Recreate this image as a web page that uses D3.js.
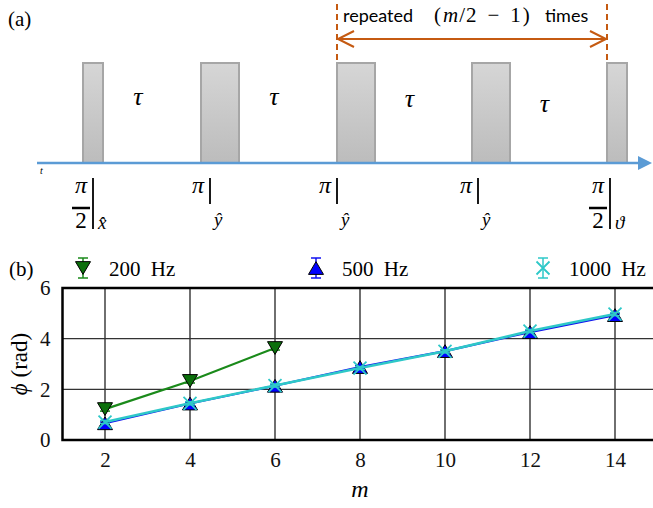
<!doctype html>
<html>
<head>
<meta charset="utf-8">
<title>Pulse sequence and accumulated phase</title>
<script src="https://cdnjs.cloudflare.com/ajax/libs/d3/7.8.5/d3.min.js"></script>
<style>
  body { margin: 0; background: #fff; }
  svg { display: block; }
</style>
</head>
<body>
<div id="chart"></div>
<script>
// ---- panel (a) : pulse sequence (time in arbitrary units along the axis) ----
const pulseStart = [46, 164, 300, 435, 570];
const pulseWidth = [20, 38, 38, 38, 20];
const pulseLabelAt = [56, 173, 300, 441, 573];
const pulseNum = ["π", "π", "π", "π", "π"];
const pulseDen = ["2", "", "", "", "2"];
const pulseSub = ["x̂", "ŷ", "ŷ", "ŷ", "ϑ"];

// ---- panel (b) : phase vs number of pulses ----
const mValues = [2, 4, 6, 8, 10, 12, 14];
const phi200 = [1.22, 2.33, 3.63];
const phi500 = [0.66, 1.44, 2.14, 2.88, 3.51, 4.26, 4.93];
const phi1000 = [0.71, 1.45, 2.15, 2.84, 3.50, 4.30, 4.97];
const err200 = [0.08, 0.08, 0.08];
const err500 = [0.05, 0.05, 0.05, 0.05, 0.05, 0.05, 0.05];
const err1000 = [0.06, 0.06, 0.06, 0.06, 0.06, 0.06, 0.06];
const xTicks = [2, 4, 6, 8, 10, 12, 14];
const yTicks = [0, 2, 4, 6];
const seriesNames = ["200 Hz", "500 Hz", "1000 Hz"];

const W = 653, H = 508;
const svg = d3.select("#chart").append("svg")
  .attr("width", W).attr("height", H);

const serif = "'Liberation Serif'";
const sans = "'Lato'";

// ================= panel (a) =================
const gA = svg.append("g");
const t = d3.scaleLinear().domain([0, 600]).range([37, 637]);
const axisY = 163, pulseTop = 63;

gA.append("text").attr("x", 8).attr("y", 26)
  .style("font-family", serif).style("font-size", "21px").text("(a)");

const grad = svg.append("defs").append("linearGradient")
  .attr("id", "pg").attr("x1", 0).attr("y1", 0).attr("x2", 0).attr("y2", 1);
grad.append("stop").attr("offset", "0%").attr("stop-color", "#d6d6d6");
grad.append("stop").attr("offset", "100%").attr("stop-color", "#bcbcbc");

gA.selectAll("rect.pulse").data(pulseStart).join("rect")
  .attr("class", "pulse")
  .attr("x", (d) => t(d))
  .attr("y", pulseTop)
  .attr("width", (d, i) => t(d + pulseWidth[i]) - t(d))
  .attr("height", axisY - pulseTop)
  .attr("fill", "url(#pg)")
  .attr("stroke", "#a6a6a6")
  .attr("stroke-width", 2);

// time axis
gA.append("line")
  .attr("x1", t(0)).attr("x2", t(602)).attr("y1", axisY).attr("y2", axisY)
  .attr("stroke", "#5b9bd5").attr("stroke-width", 2.5);
gA.append("path")
  .attr("d", `M${t(601)},${axisY - 7} L${t(615)},${axisY} L${t(601)},${axisY + 7} Z`)
  .attr("fill", "#5b9bd5");
gA.append("text").attr("x", 40).attr("y", 174)
  .style("font-family", serif).style("font-style", "italic")
  .style("font-size", "10px").text("t");

// tau labels between pulses
const tauY = [98, 98, 100, 105];
d3.range(4).forEach((i) => {
  const a = pulseStart[i] + pulseWidth[i], b = pulseStart[i + 1];
  gA.append("text")
    .attr("x", t((a + b) / 2) - 14).attr("y", tauY[i] + 7)
    .attr("text-anchor", "middle")
    .style("font-family", serif).style("font-style", "italic")
    .style("font-size", "26px").text("τ");
});

// repeated bracket
const orange = "#c55a11";
const xL = t(pulseStart[2]), xR = t(pulseStart[4]);
[xL, xR].forEach((x) => {
  gA.append("line").attr("x1", x).attr("x2", x).attr("y1", 4).attr("y2", pulseTop)
    .attr("stroke", orange).attr("stroke-width", 2).attr("stroke-dasharray", "6,4");
});
gA.append("line").attr("x1", xL + 1).attr("x2", xR - 1).attr("y1", 39).attr("y2", 39)
  .attr("stroke", orange).attr("stroke-width", 2);
gA.append("path").attr("d", `M${xL + 17},${31} L${xL + 1},39 L${xL + 17},47`)
  .attr("fill", "none").attr("stroke", orange).attr("stroke-width", 2);
gA.append("path").attr("d", `M${xR - 17},${31} L${xR - 1},39 L${xR - 17},47`)
  .attr("fill", "none").attr("stroke", orange).attr("stroke-width", 2);

gA.append("text").attr("x", 343).attr("y", 22)
  .style("font-family", sans).style("font-size", "18px").text("repeated");
const mth = gA.append("text").attr("x", 434).attr("y", 22)
  .style("font-family", serif).style("font-size", "21px");
mth.append("tspan").text("(");
mth.append("tspan").attr("dx", 2).style("font-style", "italic").text("m");
mth.append("tspan").attr("dx", 1).text("/");
mth.append("tspan").attr("dx", 1).text("2");
mth.append("tspan").attr("dx", 11).text("−");
mth.append("tspan").attr("dx", 11).text("1");
mth.append("tspan").attr("dx", 2).text(")");
gA.append("text").attr("x", 545).attr("y", 22)
  .style("font-family", sans).style("font-size", "18px").text("times");

// pulse labels under the axis
pulseLabelAt.forEach((s, i) => {
  const bx = t(s);
  const g = gA.append("g").style("font-family", serif).style("font-style", "italic");
  g.append("text").attr("x", bx - 12).attr("y", 193).attr("text-anchor", "middle")
    .style("font-size", "24px").text(pulseNum[i]);
  if (pulseDen[i]) {
    g.append("line").attr("x1", bx - 21).attr("x2", bx - 3).attr("y1", 208).attr("y2", 208)
      .attr("stroke", "#000").attr("stroke-width", 2.5);
    g.append("text").attr("x", bx - 12).attr("y", 228).attr("text-anchor", "middle")
      .style("font-style", "normal").style("font-size", "23px").text(pulseDen[i]);
    g.append("line").attr("x1", bx).attr("x2", bx).attr("y1", 178).attr("y2", 229)
      .attr("stroke", "#000").attr("stroke-width", 1.8);
    g.append("text").attr("x", bx + 5).attr("y", 229)
      .style("font-size", "19px").text(pulseSub[i]);
  } else {
    g.append("line").attr("x1", bx).attr("x2", bx).attr("y1", 178).attr("y2", 204)
      .attr("stroke", "#000").attr("stroke-width", 1.8);
    g.append("text").attr("x", bx + 4).attr("y", 226)
      .style("font-size", "19px").text(pulseSub[i]);
  }
});

// ================= panel (b) =================
const gB = svg.append("g");
const x = d3.scaleLinear().domain([1, 15]).range([62.5, 657.5]);
const y = d3.scaleLinear().domain([0, 6]).range([440, 288]);

gB.append("text").attr("x", 9).attr("y", 276)
  .style("font-family", serif).style("font-size", "21px").text("(b)");

// grid
gB.selectAll("line.vg").data(xTicks).join("line").attr("class", "vg")
  .attr("x1", (d) => x(d)).attr("x2", (d) => x(d))
  .attr("y1", y(6)).attr("y2", y(0))
  .attr("stroke", "#222").attr("stroke-width", 1.3);
gB.selectAll("line.hg").data(yTicks.slice(1, -1)).join("line").attr("class", "hg")
  .attr("x1", x(1)).attr("x2", x(15))
  .attr("y1", (d) => y(d)).attr("y2", (d) => y(d))
  .attr("stroke", "#333").attr("stroke-width", 1.3);

// axes
const xAxis = d3.axisBottom(x).tickValues(xTicks).tickFormat(d3.format("d"))
  .tickSize(0).tickPadding(12);
const yAxis = d3.axisLeft(y).tickValues(yTicks).tickFormat(d3.format("d"))
  .tickSize(0).tickPadding(12);
const gx = gB.append("g").attr("transform", `translate(0,${y(0)})`).call(xAxis);
const gy = gB.append("g").attr("transform", `translate(${x(1)},0)`).call(yAxis);
[gx, gy].forEach((g) => {
  g.select(".domain").remove();
  g.selectAll("text").style("font-family", serif).style("font-size", "21px")
    .attr("fill", "#111");
});
gy.selectAll("text").attr("dy", "0.33em");

// frame
gB.append("rect").attr("x", x(1)).attr("y", y(6))
  .attr("width", x(15) - x(1)).attr("height", y(0) - y(6))
  .attr("fill", "none").attr("stroke", "#000").attr("stroke-width", 2.5);

// labels
const yl = gB.append("text")
  .attr("transform", `translate(27,${(y(0) + y(6)) / 2}) rotate(-90)`)
  .attr("text-anchor", "middle")
  .style("font-family", serif).style("font-size", "23px");
yl.append("tspan").style("font-style", "italic").text("ϕ");
yl.append("tspan").text(" (rad)");
gB.append("text").attr("x", x(8)).attr("y", 497).attr("text-anchor", "middle")
  .style("font-family", serif).style("font-style", "italic").style("font-size", "24px")
  .text("m");

const line = d3.line().x((d) => x(d[0])).y((d) => y(d[1]));
const triDown = (cx, cy, s) => `M${cx - s},${cy - s * 0.85} L${cx + s},${cy - s * 0.85} L${cx},${cy + s * 0.85} Z`;
const triUp = (cx, cy, s) => `M${cx - s},${cy + s * 0.85} L${cx + s},${cy + s * 0.85} L${cx},${cy - s * 0.85} Z`;
const xMark = (cx, cy, s) => `M${cx - s},${cy - s} L${cx + s},${cy + s} M${cx - s},${cy + s} L${cx + s},${cy - s}`;

const series = [
  {vals: phi200, err: err200, col: "#1a8a1a", fill: "#0b6f0b", kind: "down", lw: 2.2},
  {vals: phi500, err: err500, col: "#1010f0", fill: "#0000ff", kind: "up", lw: 2.2},
  {vals: phi1000, err: err1000, col: "#2ec8c8", fill: "#2ec8c8", kind: "x", lw: 2.6}
];

function marker(g, s, cx, cy) {
  if (s.kind === "down") {
    g.append("path").attr("d", triDown(cx, cy, 7.5)).attr("fill", s.fill)
      .attr("stroke", "#000").attr("stroke-width", 1);
  } else if (s.kind === "up") {
    g.append("path").attr("d", triUp(cx, cy, 7.5)).attr("fill", s.fill)
      .attr("stroke", "#000").attr("stroke-width", 1);
  } else {
    g.append("path").attr("d", xMark(cx, cy, 6.5)).attr("fill", "none")
      .attr("stroke", s.col).attr("stroke-width", 1.8);
  }
}

function errbar(g, s, cx, ylo, yhi) {
  g.append("line").attr("x1", cx).attr("x2", cx).attr("y1", ylo).attr("y2", yhi)
    .attr("stroke", s.col).attr("stroke-width", 1.5);
  [ylo, yhi].forEach((yy) => g.append("line")
    .attr("x1", cx - 5).attr("x2", cx + 5).attr("y1", yy).attr("y2", yy)
    .attr("stroke", s.col).attr("stroke-width", 1.5));
}

series.forEach((s) => {
  const pts = s.vals.map((v, i) => [mValues[i], v]);
  gB.append("path").datum(pts).attr("d", line)
    .attr("fill", "none").attr("stroke", s.col).attr("stroke-width", s.lw);
  const gm = gB.append("g");
  pts.forEach((p, i) => {
    errbar(gm, s, x(p[0]), y(p[1] - s.err[i]), y(p[1] + s.err[i]));
    marker(gm, s, x(p[0]), y(p[1]));
  });
});

// legend
const legX = [83, 316, 543];
const legY = 268;
series.forEach((s, i) => {
  const g = gB.append("g");
  errbar(g, s, legX[i], legY + 10, legY - 10);
  marker(g, s, legX[i], legY);
  g.append("text").attr("x", legX[i] + 26).attr("y", legY + 8)
    .style("font-family", serif).style("font-size", "21px").style("word-spacing", "5px")
    .text(seriesNames[i]);
});
</script>
</body>
</html>
